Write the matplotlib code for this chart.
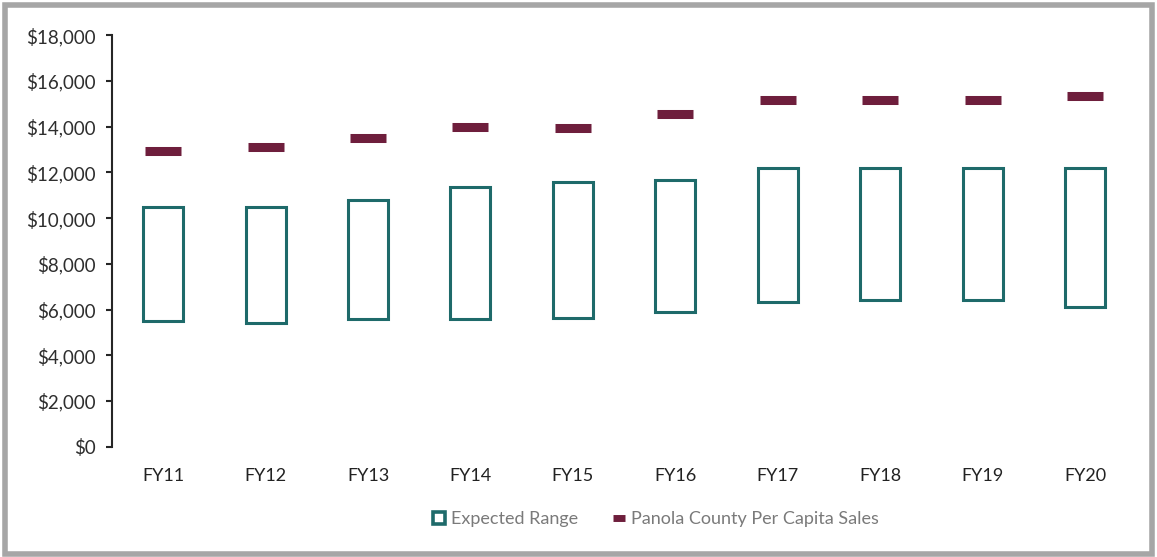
import numpy as np
import matplotlib.pyplot as plt
from matplotlib.patches import Patch, Rectangle
from matplotlib.lines import Line2D
from matplotlib.ticker import FuncFormatter

years = ['FY11', 'FY12', 'FY13', 'FY14', 'FY15', 'FY16', 'FY17', 'FY18', 'FY19', 'FY20']
range_low = [5500, 5400, 5600, 5600, 5650, 5900, 6350, 6400, 6400, 6100]
range_high = [10500, 10500, 10800, 11350, 11600, 11650, 12200, 12200, 12200, 12200]
per_capita = [12950, 13100, 13500, 14000, 13950, 14550, 15150, 15150, 15150, 15350]

teal = '#1E6A6A'
maroon = '#6E1E3C'

plt.rcParams['font.family'] = ['Lato', 'DejaVu Sans']

fig = plt.figure(figsize=(11.57, 5.57), dpi=100)
ax = fig.add_axes([0.0968, 0.198, 0.8852, 0.7386])

x = np.arange(len(years))
heights = np.array(range_high) - np.array(range_low)
ax.bar(x, heights, bottom=range_low, width=0.39, facecolor='white',
       edgecolor=teal, linewidth=2.2)
ax.plot(x, per_capita, linestyle='none', marker='_', markersize=26,
        markeredgewidth=6.5, color=maroon)

ax.set_xlim(-0.5, len(years) - 0.5)
ax.set_ylim(0, 18000)
ax.set_yticks(np.arange(0, 18001, 2000))
ax.yaxis.set_major_formatter(FuncFormatter(lambda v, p: '${:,.0f}'.format(v)))
ax.set_xticks(x)
ax.set_xticklabels(years)

for s in ['top', 'right', 'bottom']:
    ax.spines[s].set_visible(False)
ax.spines['left'].set_color('#262626')
ax.spines['left'].set_linewidth(1.5)
ax.tick_params(axis='y', direction='out', length=4, width=1.5, color='#262626',
               labelsize=13.5, labelcolor='#2E2E2E', pad=8)
ax.tick_params(axis='x', length=0, labelsize=13, labelcolor='#222222', pad=15)

handles = [Patch(facecolor='white', edgecolor=teal, linewidth=2.6),
           Line2D([0], [0], color=maroon, linewidth=5, solid_capstyle='butt')]
leg = fig.legend(handles, ['Expected Range', 'Panola County Per Capita Sales'],
                 loc='center', bbox_to_anchor=(0.567, 0.068), ncol=2, frameon=False,
                 fontsize=13, handlelength=0.65, handleheight=0.65, handletextpad=0.35,
                 columnspacing=1.9)
for t in leg.get_texts():
    t.set_color('#7A7A7A')

# grey frame around the chart
fig.patches.append(Rectangle((0.0045, 0.0055), 0.991, 0.985, transform=fig.transFigure,
                             fill=False, edgecolor='#A6A6A6', linewidth=4))

fig.savefig('out.png', dpi=100)
